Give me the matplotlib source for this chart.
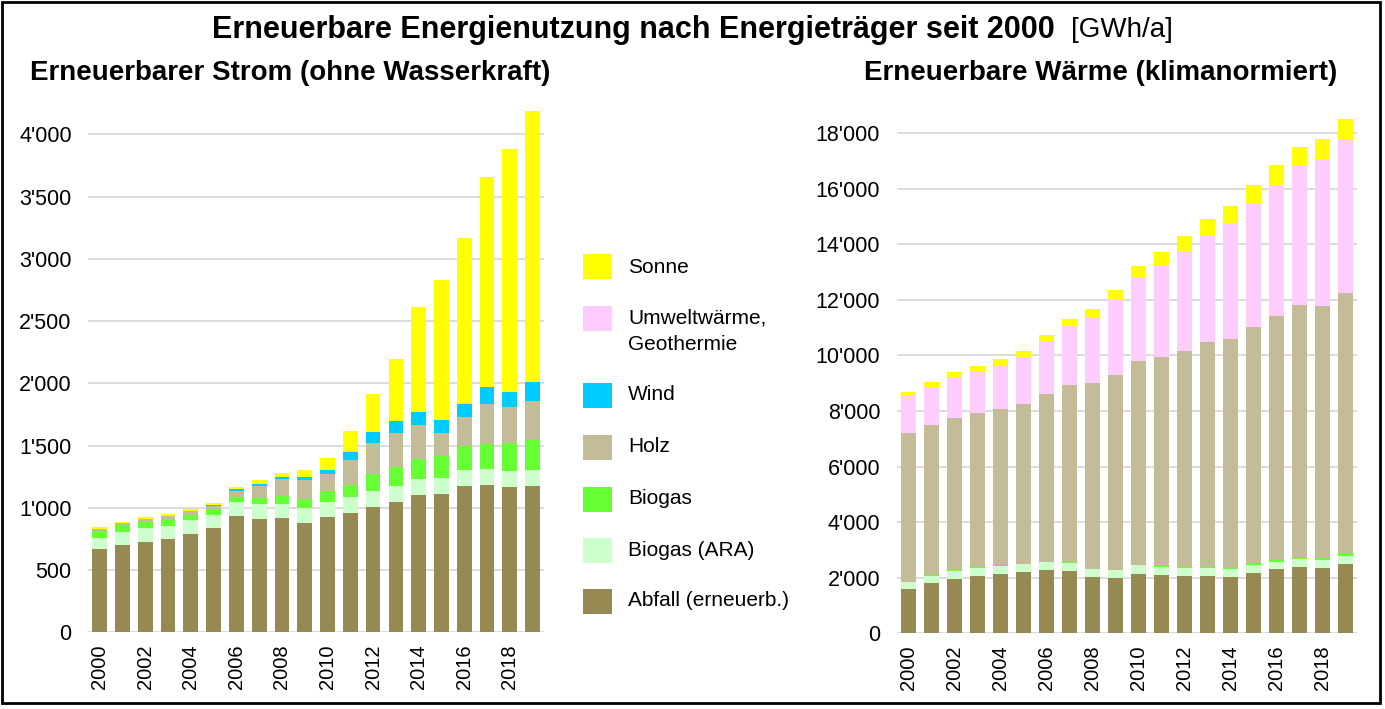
import numpy as np
import matplotlib
matplotlib.use('Agg')
import matplotlib.pyplot as plt
from matplotlib import font_manager
from matplotlib.patches import Rectangle
from matplotlib.ticker import FuncFormatter, FixedLocator

years = list(range(2000, 2020))

# Erneuerbarer Strom (ohne Wasserkraft), GWh/a
strom_abfall = [667, 702, 728, 747, 793, 836, 935, 913, 919, 881,
                924, 961, 1010, 1047, 1106, 1114, 1178, 1181, 1165, 1176]
strom_ara = [93, 104, 110, 110, 109, 107, 112, 118, 112, 115,
             120, 124, 128, 129, 129, 126, 129, 129, 131, 128]
strom_biogas = [57, 56, 46, 43, 41, 40, 40, 51, 62, 75,
                89, 101, 134, 150, 160, 174, 193, 203, 222, 244]
strom_holz = [13, 14, 26, 32, 32, 32, 48, 94, 136, 156,
              139, 196, 252, 278, 273, 187, 227, 324, 292, 311]
strom_wind = [0, 1, 2, 2, 3, 4, 14, 16, 16, 18,
              32, 69, 88, 91, 102, 108, 107, 131, 121, 148]
strom_sonne = [14, 12, 17, 17, 16, 23, 21, 29, 32, 57,
               94, 167, 299, 502, 843, 1119, 1334, 1689, 1951, 2181]

# Erneuerbare Waerme (klimanormiert), GWh/a
waerme_abfall = [1586, 1814, 1970, 2078, 2150, 2210, 2282, 2258, 2018, 1994,
                 2150, 2102, 2066, 2066, 2030, 2174, 2306, 2390, 2366, 2511]
waerme_ara = [250, 260, 280, 280, 280, 280, 280, 280, 290, 270,
              290, 300, 300, 300, 300, 288, 277, 277, 277, 276]
waerme_biogas = [20, 20, 20, 20, 20, 20, 20, 20, 20, 20,
                 25, 25, 25, 25, 25, 45, 60, 60, 70, 85]
waerme_holz = [5363, 5402, 5490, 5538, 5610, 5730, 6019, 6391, 6669, 7007,
               7331, 7525, 7777, 8089, 8233, 8514, 8786, 9099, 9077, 9363]
waerme_umwelt = [1346, 1381, 1459, 1519, 1604, 1712, 1879, 2096, 2384, 2703,
                 3015, 3303, 3604, 3868, 4169, 4456, 4709, 4973, 5261, 5561]
waerme_sonne = [132, 180, 168, 193, 192, 216, 241, 252, 277, 348,
                408, 469, 516, 565, 612, 661, 697, 697, 721, 708]

colors = {
    'Sonne': '#ffff00',
    'Umweltwärme,\nGeothermie': '#ffccff',
    'Wind': '#00ccff',
    'Holz': '#c4bc96',
    'Biogas': '#66ff33',
    'Biogas (ARA)': '#ccffcc',
    'Abfall (erneuerb.)': '#968a52',
}

W, H = 1385, 709
names = {f.name for f in font_manager.fontManager.ttflist}
narrow = 'Liberation Sans Narrow' if 'Liberation Sans Narrow' in names else 'Liberation Sans'
plt.rcParams['font.family'] = ['Liberation Sans', 'DejaVu Sans']

fig = plt.figure(figsize=(W / 100, H / 100), dpi=100)


def px(x0, y_top, x1, y_bottom):
    # pixel box -> figure fraction rect
    return [x0 / W, 1 - y_bottom / H, (x1 - x0) / W, (y_bottom - y_top) / H]


def fmt(v, pos):
    return f"{v:,.0f}".replace(',', "'")


def draw_stack(ax, layers, width, ymax, step):
    x = np.arange(len(years))
    bottom = np.zeros(len(years))
    for name, vals in layers:
        ax.bar(x, vals, width=width, bottom=bottom, color=colors[name],
               linewidth=0, zorder=3)
        bottom = bottom + np.array(vals)
    ax.set_xlim(-0.5, len(years) - 0.5)
    ax.set_ylim(0, ymax)
    ax.yaxis.set_major_locator(FixedLocator(np.arange(0, ymax, step)))
    ax.yaxis.set_major_formatter(FuncFormatter(fmt))
    ax.grid(axis='y', color='#d9d9d9', linewidth=1.3, zorder=0)
    ax.set_axisbelow(True)
    for s in ax.spines.values():
        s.set_visible(False)
    ax.set_xticks(x[::2])
    ax.set_xticklabels([str(y) for y in years[::2]], rotation=90, fontsize=14.5)
    ax.tick_params(axis='x', length=0, pad=9)
    ax.tick_params(axis='y', length=0, pad=12, labelsize=15.5)


# top of left axes: 4300 units -> pixel
ax1 = fig.add_axes(px(88.3, 632.3 - 4300 * 0.1245, 544, 632.3))
draw_stack(ax1, [('Abfall (erneuerb.)', strom_abfall), ('Biogas (ARA)', strom_ara),
                 ('Biogas', strom_biogas), ('Holz', strom_holz),
                 ('Wind', strom_wind), ('Sonne', strom_sonne)],
           0.645, 4300, 500)

ax2 = fig.add_axes(px(896.8, 633.3 - 19000 * 0.027794, 1356.8, 633.3))
draw_stack(ax2, [('Abfall (erneuerb.)', waerme_abfall), ('Biogas (ARA)', waerme_ara),
                 ('Biogas', waerme_biogas), ('Holz', waerme_holz),
                 ('Umweltwärme,\nGeothermie', waerme_umwelt), ('Sonne', waerme_sonne)],
           0.665, 19000, 2000)

# legend in the middle
legend_rows = [('Sonne', 267), ('Umweltwärme,\nGeothermie', 318), ('Wind', 395),
               ('Holz', 447), ('Biogas', 499), ('Biogas (ARA)', 550),
               ('Abfall (erneuerb.)', 601)]
for name, yc in legend_rows:
    fig.add_artist(Rectangle((583 / W, 1 - (yc + 12.5) / H), 29 / W, 25 / H,
                             transform=fig.transFigure, facecolor=colors[name],
                             edgecolor='none'))
    if '\n' in name:
        fig.text(628 / W, 1 - (yc - 10) / H, name, fontsize=15, va='top',
                 ha='left', linespacing=1.5)
    else:
        fig.text(628 / W, 1 - yc / H, name, fontsize=15, va='center', ha='left')

# titles
t1 = fig.text(0, 1 - 30 / H, 'Erneuerbare Energienutzung nach Energieträger seit 2000',
              fontsize=22, fontweight='bold', family=[narrow, 'DejaVu Sans'],
              va='center', ha='left')
t2 = fig.text(0, 1 - 30 / H, '[GWh/a]', fontsize=20, family=[narrow, 'DejaVu Sans'],
              va='center', ha='left')
fig.canvas.draw()
r = fig.canvas.get_renderer()
w1 = t1.get_window_extent(r).width
w2 = t2.get_window_extent(r).width
gap = 16
start = (W - (w1 + gap + w2)) / 2
t1.set_x(start / W)
t2.set_x((start + w1 + gap) / W)

fig.text(30 / W, 1 - 73 / H, 'Erneuerbarer Strom (ohne Wasserkraft)', fontsize=20,
         fontweight='bold', family=[narrow, 'DejaVu Sans'], va='center', ha='left')
fig.text(1101 / W, 1 - 73 / H, 'Erneuerbare Wärme (klimanormiert)', fontsize=20,
         fontweight='bold', family=[narrow, 'DejaVu Sans'], va='center', ha='center')

# frame around the chart
fig.add_artist(Rectangle((1.5 / W, 1 - 703 / H), 1378.5 / W, 701.5 / H,
                         transform=fig.transFigure, fill=False,
                         edgecolor='black', linewidth=2))

fig.savefig('out.png', dpi=100)
